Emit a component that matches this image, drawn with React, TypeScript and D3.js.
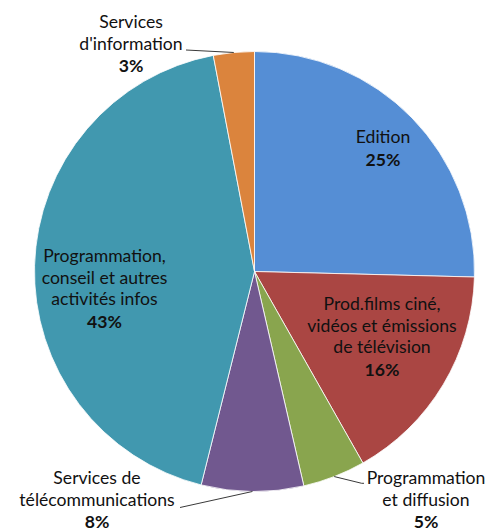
import React, { useEffect, useRef } from "react";
import * as d3 from "d3";

// parts of the sector, in %
const categories = [
  "Edition",
  "Prod.films ciné, vidéos et émissions de télévision",
  "Programmation et diffusion",
  "Services de télécommunications",
  "Programmation, conseil et autres activités infos",
  "Services d'information",
];
const values = [25.4, 16.4, 4.6, 7.5, 43.1, 3.0];
const colors = ["#558ED5", "#AA4643", "#89A54E", "#71588F", "#4198AF", "#DB843D"];

// label blocks: text lines, centre x, first baseline
const labelLayout = [
  { lines: ["Edition"], x: 383, y: 143 },
  { lines: ["Prod.films ciné,", "vidéos et émissions", "de télévision"], x: 382, y: 310 },
  { lines: ["Programmation", "et diffusion"], x: 426, y: 484, leader: [[364, 483.3], [361.7, 483.3]] },
  { lines: ["Services de", "télécommunications"], x: 97, y: 483.8, leader: [[180, 507.5]] },
  { lines: ["Programmation,", "conseil et autres", "activités infos"], x: 104.5, y: 262 },
  { lines: ["Services", "d'information"], x: 131, y: 28, leader: [[186, 50]] },
];

const W = 491;
const H = 531;

function App() {
  const svgRef = useRef<SVGSVGElement>(null);

  useEffect(() => {
    document.body.style.margin = "0";
    const svg = d3.select(svgRef.current);
    svg.selectAll("*").remove();

    const cx = 254.5;
    const cy = 271.5;
    const radius = 220;

    const data = categories.map((name, i) => ({ name, value: values[i] }));
    const pie = d3
      .pie<{ name: string; value: number }>()
      .sort(null)
      .value((d) => d.value);
    const arc = d3
      .arc<d3.PieArcDatum<{ name: string; value: number }>>()
      .innerRadius(0)
      .outerRadius(radius);
    const edge = d3
      .arc<d3.PieArcDatum<{ name: string; value: number }>>()
      .innerRadius(radius)
      .outerRadius(radius);

    const arcs = pie(data);
    const g = svg.append("g").attr("transform", `translate(${cx},${cy})`);

    g.selectAll("path.slice")
      .data(arcs)
      .join("path")
      .attr("class", "slice")
      .attr("d", arc)
      .attr("fill", (d, i) => colors[i])
      .attr("stroke", "#ffffff")
      .attr("stroke-width", 0.8);

    const lineH = 21.7;
    const pctGap = 22.5;

    arcs.forEach((d, i) => {
      const lay = labelLayout[i];
      if (lay.leader) {
        const [ex, ey] = edge.centroid(d);
        const pts = [...lay.leader.map(([x, y]) => [x, y]), [ex + cx, ey + cy]];
        svg
          .append("path")
          .attr("d", d3.line()(pts as [number, number][]))
          .attr("fill", "none")
          .attr("stroke", "#3a3a3a")
          .attr("stroke-width", 1);
      }
      const t = svg
        .append("text")
        .attr("text-anchor", "middle")
        .style("font-family", "Lato, 'Open Sans', sans-serif")
        .style("font-size", "17.6px")
        .style("fill", "#111");
      lay.lines.forEach((line, j) => {
        t.append("tspan").attr("x", lay.x).attr("y", lay.y + j * lineH).text(line);
      });
      t.append("tspan")
        .attr("x", lay.x)
        .attr("y", lay.y + (lay.lines.length - 1) * lineH + pctGap)
        .style("font-weight", "bold")
        .text(`${Math.round(d.data.value)}%`);
    });
  }, []);

  return <svg ref={svgRef} width={W} height={H} style={{ display: "block" }} />;
}

export default App;
